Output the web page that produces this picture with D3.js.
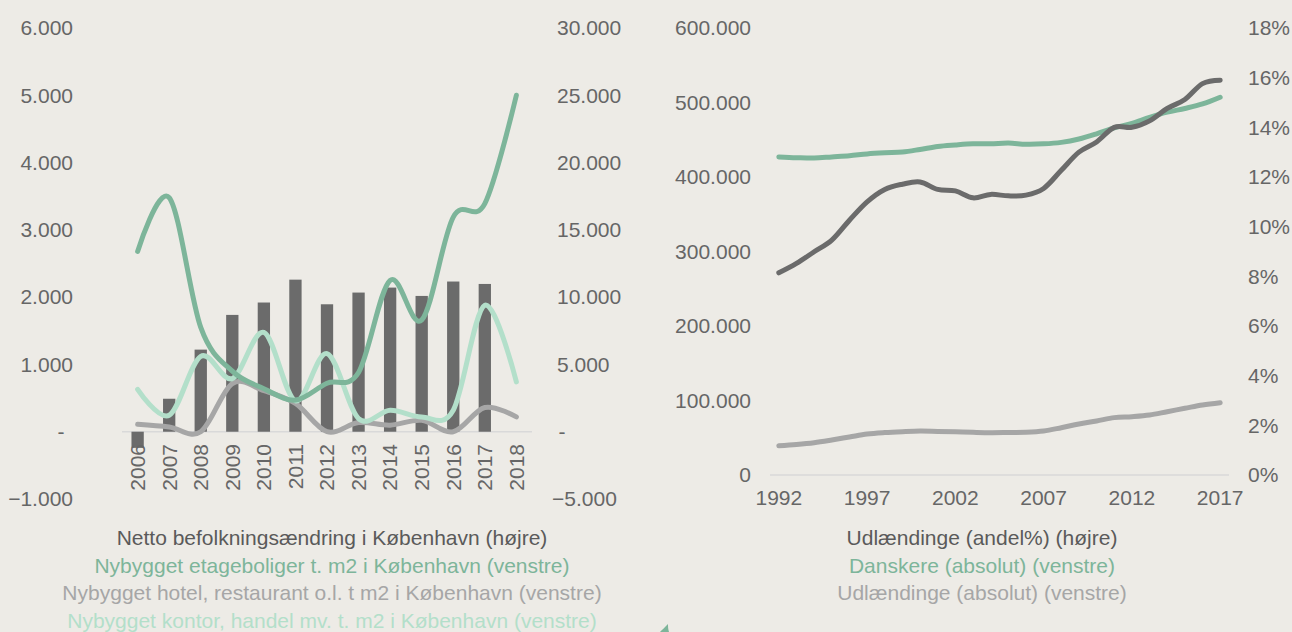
<!DOCTYPE html>
<html>
<head>
<meta charset="utf-8">
<script src="https://d3js.org/d3.v7.min.js"></script>
<style>
  body { margin: 0; background: #edebe6; }
  svg { display: block; font-family: "Liberation Sans", Arial, sans-serif; }
</style>
</head>
<body>
<svg width="1292" height="632"></svg>
<script>
// ---- left chart data ----
var years = ["2006","2007","2008","2009","2010","2011","2012","2013","2014","2015","2016","2017","2018"];
var befolkning = [-1200, 2450, 6100, 8680, 9600, 11300, 9470, 10340, 10710, 10090, 11160, 10980, null];
var etageboliger = [2680, 3480, 1550, 900, 640, 470, 720, 880, 2250, 1660, 3190, 3390, 5000];
var hotel = [110, 70, 0, 716, 610, 420, 0, 136, 97, 170, 0, 360, 220];
var kontor = [630, 245, 1120, 790, 1475, 460, 1160, 196, 320, 220, 320, 1880, 740];
var leftTicks = [-1000, 0, 1000, 2000, 3000, 4000, 5000, 6000];
var rightTicks = [-5000, 0, 5000, 10000, 15000, 20000, 25000, 30000];
var legendLeft = [
  "Netto befolkningsændring i København (højre)",
  "Nybygget etageboliger t. m2 i København (venstre)",
  "Nybygget hotel, restaurant o.l. t m2 i København (venstre)",
  "Nybygget kontor, handel mv. t. m2 i København (venstre)"
];

// ---- right chart data ----
var aar = d3.range(1992, 2018);
var danskere = [427000, 426000, 425500, 427000, 428500, 431000, 432500, 433500, 437000, 441000, 443000, 444500, 444500,
  445500, 444000, 444500, 446500, 451000, 458000, 466000, 472000, 480000, 487000, 492000, 498000, 507000];
var udlAbs = [39300, 41000, 43400, 47000, 51000, 55000, 57000, 58200, 59000, 58500, 58000, 57300, 56800,
  57000, 57300, 59000, 63500, 68500, 72500, 77000, 78300, 80500, 85000, 89500, 94000, 97000];
var udlAndel = [0.0814, 0.0852, 0.0899, 0.0946, 0.1026, 0.110, 0.115, 0.1171, 0.118, 0.115, 0.1144, 0.1116, 0.113,
  0.1124, 0.1127, 0.1154, 0.1227, 0.130, 0.1341, 0.140, 0.1400, 0.1426, 0.1476, 0.1512, 0.1576, 0.159];
var yearTicks = [1992, 1997, 2002, 2007, 2012, 2017];
var legendRight = [
  "Udlændinge (andel%) (højre)",
  "Danskere (absolut) (venstre)",
  "Udlændinge (absolut) (venstre)"
];

var cDark = "#6b6b6b", cGreen = "#7db59a", cGray = "#a6a6a6", cLight = "#b3dfca", cText = "#666666";
var fs = 21;
var svg = d3.select("svg");
var fmt = function(v) { return v === 0 ? "-" : d3.format(",")(v).replace(/,/g, "."); };

// ===== left chart =====
var x = d3.scaleBand().domain(years).range([122, 532]).paddingInner(0.61).paddingOuter(0.3);
var xc = function(d) { return x(d) + x.bandwidth() / 2; };
var yL = d3.scaleLinear().domain([-1000, 6000]).range([499, 28]);
var yR = d3.scaleLinear().domain([-5000, 30000]).range([499, 28]);

var gl = svg.append("g");

gl.selectAll("text.yl").data(leftTicks).enter().append("text")
    .attr("x", function(d) { return d === 0 ? 61 : 73; })
    .attr("y", function(d) { return yL(d); })
    .attr("dy", "0.35em")
    .attr("text-anchor", function(d) { return d === 0 ? "middle" : "end"; })
    .attr("fill", cText).attr("font-size", fs)
    .text(fmt);

gl.selectAll("text.yr").data(rightTicks).enter().append("text")
    .attr("x", function(d) { return d === 0 ? 562 : (d < 0 ? 552 : 557); })
    .attr("y", function(d) { return yR(d); })
    .attr("dy", "0.35em")
    .attr("text-anchor", function(d) { return d === 0 ? "middle" : "start"; })
    .attr("fill", cText).attr("font-size", fs)
    .text(fmt);

gl.append("line")
    .attr("x1", 122).attr("x2", 532)
    .attr("y1", yL(0)).attr("y2", yL(0))
    .attr("stroke", "#d9d9d9").attr("stroke-width", 1.5);

gl.selectAll("rect.bar").data(years.filter(function(d, i) { return befolkning[i] !== null; })).enter().append("rect")
    .attr("x", function(d) { return x(d); })
    .attr("width", x.bandwidth())
    .attr("y", function(d) { var v = befolkning[years.indexOf(d)]; return yR(Math.max(0, v)); })
    .attr("height", function(d) { var v = befolkning[years.indexOf(d)]; return Math.abs(yR(v) - yR(0)); })
    .attr("fill", cDark);

var lineL = d3.line()
    .x(function(d, i) { return xc(years[i]); })
    .y(function(d) { return yL(d); })
    .curve(d3.curveCatmullRom.alpha(0));

[[hotel, cGray], [kontor, cLight], [etageboliger, cGreen]].forEach(function(s) {
  gl.append("path")
      .attr("d", lineL(s[0]))
      .attr("fill", "none")
      .attr("stroke", s[1])
      .attr("stroke-width", 5)
      .attr("stroke-linecap", "round");
});

gl.selectAll("text.xl").data(years).enter().append("text")
    .attr("transform", function(d) { return "translate(" + xc(d) + ",444) rotate(-90)"; })
    .attr("dy", "0.35em")
    .attr("text-anchor", "end")
    .attr("fill", cText).attr("font-size", fs)
    .text(function(d) { return d; });

var legColL = [ "#5a5a5a", cGreen, cGray, cLight ];
gl.selectAll("text.leg").data(legendLeft).enter().append("text")
    .attr("x", 332)
    .attr("y", function(d, i) { return 538 + i * 27.4; })
    .attr("dy", "0.35em")
    .attr("text-anchor", "middle")
    .attr("fill", function(d, i) { return legColL[i]; })
    .attr("font-size", fs)
    .text(function(d) { return d; });

// ===== right chart =====
var x2 = d3.scalePoint().domain(aar).range([770, 1229]).padding(0.5);
var y2 = d3.scaleLinear().domain([0, 600000]).range([475, 28]);
var y2r = d3.scaleLinear().domain([0, 0.18]).range([475, 28]);

var gr = svg.append("g");

gr.selectAll("text.yl").data(d3.range(0, 600001, 100000)).enter().append("text")
    .attr("x", 751)
    .attr("y", function(d) { return y2(d); })
    .attr("dy", "0.35em")
    .attr("text-anchor", "end")
    .attr("fill", cText).attr("font-size", fs)
    .text(function(d) { return d3.format(",")(d).replace(/,/g, "."); });

gr.selectAll("text.yr").data(d3.range(0, 0.181, 0.02)).enter().append("text")
    .attr("x", 1248)
    .attr("y", function(d) { return y2r(d); })
    .attr("dy", "0.35em")
    .attr("fill", cText).attr("font-size", fs)
    .text(function(d) { return Math.round(d * 100) + "%"; });

gr.append("line")
    .attr("x1", 770).attr("x2", 1229)
    .attr("y1", y2(0)).attr("y2", y2(0))
    .attr("stroke", "#d9d9d9").attr("stroke-width", 1.5);

gr.selectAll("text.xt").data(yearTicks).enter().append("text")
    .attr("x", function(d) { return x2(d); })
    .attr("y", 498)
    .attr("dy", "0.35em")
    .attr("text-anchor", "middle")
    .attr("fill", cText).attr("font-size", fs)
    .text(function(d) { return d; });

var lineAbs = d3.line()
    .x(function(d, i) { return x2(aar[i]); })
    .y(function(d) { return y2(d); })
    .curve(d3.curveCatmullRom.alpha(0));
var lineAndel = d3.line()
    .x(function(d, i) { return x2(aar[i]); })
    .y(function(d) { return y2r(d); })
    .curve(d3.curveCatmullRom.alpha(0));

gr.append("path").attr("d", lineAbs(udlAbs))
    .attr("fill", "none").attr("stroke", cGray).attr("stroke-width", 5).attr("stroke-linecap", "round");
gr.append("path").attr("d", lineAbs(danskere))
    .attr("fill", "none").attr("stroke", cGreen).attr("stroke-width", 5).attr("stroke-linecap", "round");
gr.append("path").attr("d", lineAndel(udlAndel))
    .attr("fill", "none").attr("stroke", cDark).attr("stroke-width", 5).attr("stroke-linecap", "round");

var legColR = [ "#5a5a5a", cGreen, cGray ];
gr.selectAll("text.leg").data(legendRight).enter().append("text")
    .attr("x", 982)
    .attr("y", function(d, i) { return 538 + i * 27.4; })
    .attr("dy", "0.35em")
    .attr("text-anchor", "middle")
    .attr("fill", function(d, i) { return legColR[i]; })
    .attr("font-size", fs)
    .text(function(d) { return d; });

// small leaf fragment at the bottom edge
svg.append("path")
    .attr("d", "M668,624 C665,627 662,630 660,632 L669,632 C668,629 668,626 668,624 Z")
    .attr("fill", cGreen);
</script>
</body>
</html>
